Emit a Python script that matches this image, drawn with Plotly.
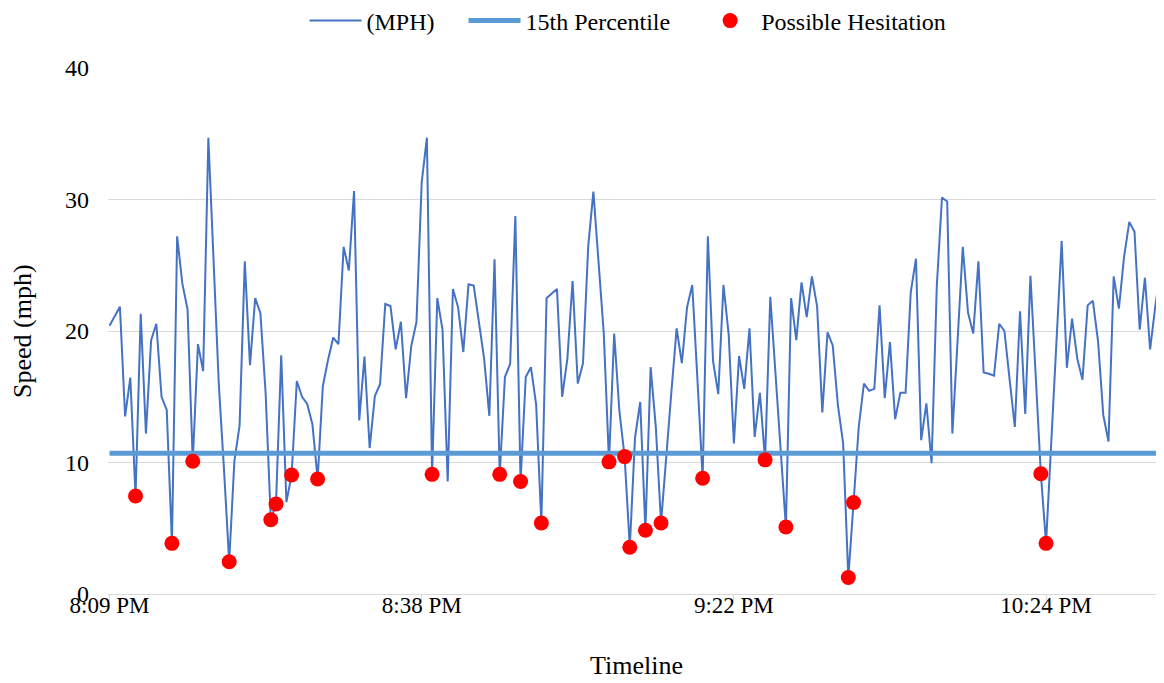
import plotly.graph_objects as go

# speed readings, one per recorded sample (mph)
speed = [
    20.4, 21.1, 21.85, 13.5, 16.45, 7.45, 21.3, 12.2, 19.3, 20.55,
    15.0, 14.0, 3.85, 27.2, 23.6, 21.65, 10.1, 19.0, 16.95, 34.7,
    25.3, 16.0, 9.5, 2.45, 10.1, 12.8, 25.3, 17.4, 22.5, 21.35,
    15.3, 5.65, 6.85, 18.15, 7.0, 9.05, 16.2, 15.0, 14.45, 12.9,
    8.75, 15.8, 17.8, 19.5, 19.0, 26.4, 24.6, 30.65, 13.2, 18.05,
    11.1, 15.05, 15.95, 22.05, 21.9, 18.6, 20.7, 14.9, 18.85, 20.7,
    31.3, 34.7, 9.1, 22.5, 20.1, 8.55, 23.2, 21.8, 18.4, 23.55,
    23.45, 20.65, 17.9, 13.55, 25.45, 9.1, 16.5, 17.5, 28.75, 8.55,
    16.5, 17.25, 14.4, 5.4, 22.5, 22.85, 23.2, 15.0, 17.9, 23.8,
    16.0, 17.55, 26.4, 30.6, 25.2, 19.8, 10.05, 19.8, 13.9, 10.45,
    3.55, 11.9, 14.6, 4.85, 17.25, 12.7, 5.4, 10.6, 15.4, 20.2,
    17.55, 21.8, 23.5, 16.3, 8.8, 27.2, 17.7, 15.2, 23.5, 19.75,
    11.45, 18.1, 15.6, 20.2, 11.95, 15.3, 10.2, 22.6, 16.5, 10.8,
    5.1, 22.5, 19.3, 23.7, 21.05, 24.15, 21.85, 13.8, 19.9, 18.9,
    14.35, 11.45, 1.25, 6.95, 12.7, 16.0, 15.45, 15.6, 21.95, 14.9,
    19.15, 13.3, 15.3, 15.3, 22.95, 25.5, 11.7, 14.5, 9.95, 23.4,
    30.15, 29.85, 12.2, 19.3, 26.4, 21.4, 19.8, 25.3, 16.85, 16.75,
    16.6, 20.55, 20.0, 16.3, 12.7, 21.5, 13.7, 24.2, 16.7, 9.15,
    3.85, 11.8, 19.5, 26.85, 17.2, 20.95, 17.9, 16.3, 21.95, 22.3,
    19.2, 13.6, 11.6, 24.15, 21.7, 25.65, 28.3, 27.55, 20.1, 24.05,
    18.6, 21.9, 24.7, 18.8,
]

# samples flagged as possible hesitation
hesitation_idx = [5, 12, 16, 23, 31, 32, 35, 40, 62, 75, 79, 83, 96, 99,
                  100, 103, 106, 114, 126, 130, 142, 143, 179, 180]

percentile_15 = 10.7

tick_pos = [0, 60, 120, 180]
tick_labels = ["8:09 PM", "8:38 PM", "9:22 PM", "10:24 PM"]

x = list(range(len(speed)))
hes_y = [speed[i] if i in hesitation_idx else None for i in x]

font = "Liberation Serif, Times New Roman, serif"
gap = "\u00a0" * 4  # extra room between legend entries

# the page body adds an 8px margin, so the figure is 8px smaller each way
W, H = 1156, 675
L, T, B = 100, 60, 89
plot_w, plot_h = W - L, H - T - B

fig = go.Figure()
fig.add_trace(go.Scatter(
    x=x, y=speed, mode="lines", name="(MPH)" + gap,
    line=dict(color="#4472C4", width=2),
))
fig.add_trace(go.Scatter(
    x=x, y=[percentile_15] * len(x), mode="lines", name="15th Percentile" + gap,
    line=dict(color="#5B9BD5", width=5),
))
fig.add_trace(go.Scatter(
    x=x, y=hes_y, mode="markers", name="Possible Hesitation",
    marker=dict(color="#FF0000", size=15),
))

fig.update_layout(
    width=W, height=H,
    margin=dict(l=L, r=0, t=T, b=B, autoexpand=False),
    paper_bgcolor="white", plot_bgcolor="white",
    font=dict(family=font, size=23, color="black"),
    showlegend=True,
    legend=dict(orientation="h", x=0.5 - 8 / plot_w, xanchor="center",
                y=1 - 13 / H, yanchor="middle", yref="container",
                font=dict(size=24), itemwidth=52),
    xaxis=dict(
        range=[-0.29, 202.67], tickvals=tick_pos, ticktext=tick_labels,
        showgrid=False, zeroline=False, showline=True, linecolor="#D9D9D9", linewidth=1,
        ticks="outside", ticklen=6, tickcolor="#D9D9D9",
        ticklabelstandoff=-16, automargin=False,
    ),
    yaxis=dict(
        range=[0, 40], dtick=10, showgrid=True, gridcolor="#D9D9D9", gridwidth=1,
        zeroline=False, showline=False, ticklabelstandoff=18, automargin=False,
        tickfont=dict(size=24),
    ),
    annotations=[
        dict(text="Timeline", xref="paper", yref="paper", x=0.5, y=-71 / plot_h,
             xanchor="center", yanchor="middle", showarrow=False, font=dict(size=26)),
        dict(text="Speed (mph)", xref="paper", yref="paper", x=-(L - 14) / plot_w, y=0.5,
             xanchor="center", yanchor="middle", showarrow=False, textangle=-90,
             font=dict(size=26)),
    ],
)

fig.write_html("out.html")
